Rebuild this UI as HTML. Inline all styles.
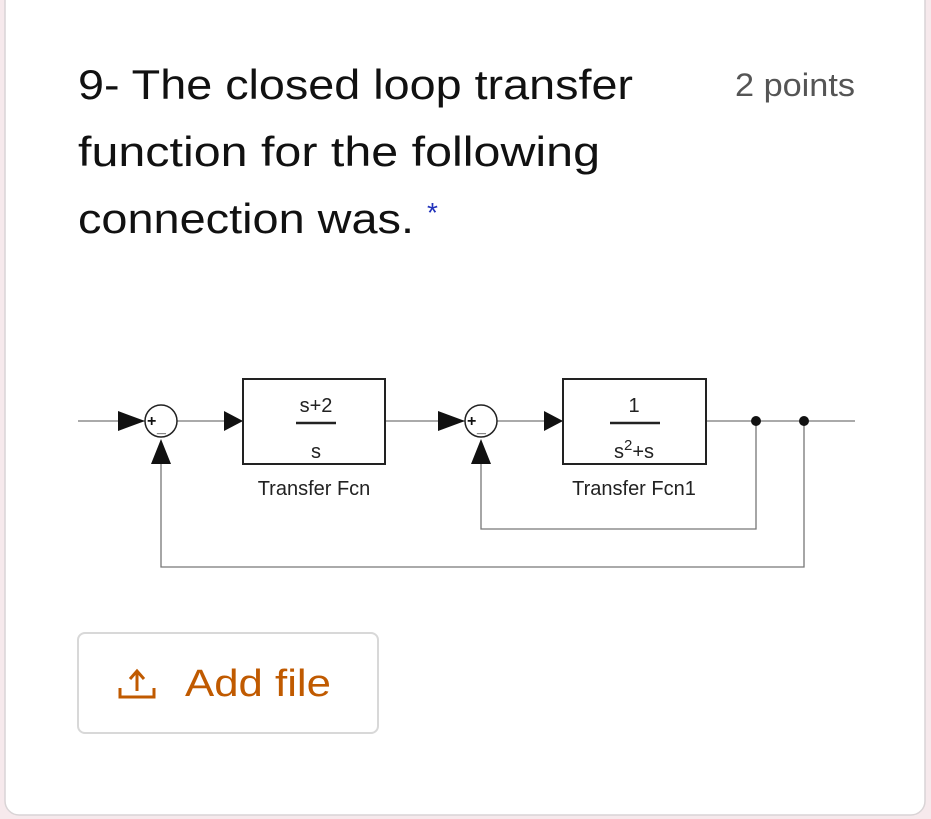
<!DOCTYPE html>
<html><head><style>
html,body{margin:0;padding:0;background:#f6e9ec;}
svg{display:block;}
text{font-family:"Liberation Sans",Arial,sans-serif;}
</style></head><body>
<svg width="931" height="819" viewBox="0 0 931 819" xmlns="http://www.w3.org/2000/svg">
<rect x="5" y="-20" width="920" height="835" rx="14" fill="#fff" stroke="#d9d4d6" stroke-width="1.5"/>
<g fill="#111" font-size="42">
<text x="78" y="99" textLength="555" lengthAdjust="spacingAndGlyphs">9- The closed loop transfer</text>
<text x="78" y="166" textLength="522" lengthAdjust="spacingAndGlyphs">function for the following</text>
<text x="78" y="233" textLength="336" lengthAdjust="spacingAndGlyphs">connection was.</text>
</g>
<text x="427" y="222" fill="#2233bb" font-size="28">*</text>
<text x="735" y="96" fill="#555" font-size="32" textLength="120" lengthAdjust="spacingAndGlyphs">2 points</text>

<g stroke="#777" stroke-width="1.3" fill="none">
<line x1="78" y1="421" x2="145" y2="421"/>
<line x1="176" y1="421" x2="243" y2="421"/>
<line x1="385" y1="421" x2="466" y2="421"/>
<line x1="497" y1="421" x2="563" y2="421"/>
<line x1="706" y1="421" x2="855" y2="421"/>
<polyline points="756,421 756,529 481,529 481,448"/>
<polyline points="804,421 804,567 161,567 161,448"/>
</g>
<g fill="#111">
<polygon points="118,411 118,431 145,421"/>
<polygon points="224,411 224,431 243,421"/>
<polygon points="438,411 438,431 465,421"/>
<polygon points="544,411 544,431 563,421"/>
<polygon points="151,464 171,464 161,439"/>
<polygon points="471,464 491,464 481,439"/>
<circle cx="756" cy="421" r="5"/>
<circle cx="804" cy="421" r="5"/>
</g>
<g stroke="#222" stroke-width="1.5" fill="#fff">
<circle cx="161" cy="421" r="16"/>
<circle cx="481" cy="421" r="16"/>
<rect x="243" y="379" width="142" height="85" stroke-width="2"/>
<rect x="563" y="379" width="143" height="85" stroke-width="2"/>
</g>
<g fill="#111" font-size="16" font-weight="bold">
<text x="147" y="426">+</text><text x="157" y="432">_</text>
<text x="467" y="426">+</text><text x="477" y="432">_</text>
</g>
<g fill="#222" font-size="20" text-anchor="middle">
<text x="316" y="412">s+2</text>
<line x1="296" y1="423" x2="336" y2="423" stroke="#222" stroke-width="2.5"/>
<text x="316" y="458">s</text>
<text x="634" y="412">1</text>
<line x1="610" y1="423" x2="660" y2="423" stroke="#222" stroke-width="2.5"/>
<text x="634" y="458">s<tspan font-size="15" dy="-8">2</tspan><tspan dy="8">+s</tspan></text>
<text x="314" y="495" font-size="20">Transfer Fcn</text>
<text x="634" y="495" font-size="20">Transfer Fcn1</text>
</g>

<rect x="78" y="633" width="300" height="100" rx="7" fill="#fff" stroke="#d8d8d8" stroke-width="2"/>
<g stroke="#c05a00" stroke-width="3" fill="none">
<polyline points="120,688 120,697 154,697 154,688"/>
<line x1="137" y1="691" x2="137" y2="672"/>
<polyline points="130,679 137,671 144,679"/>
</g>
<text x="185" y="696" fill="#c05a00" font-size="38" textLength="146" lengthAdjust="spacingAndGlyphs">Add file</text>
</svg>
</body></html>
